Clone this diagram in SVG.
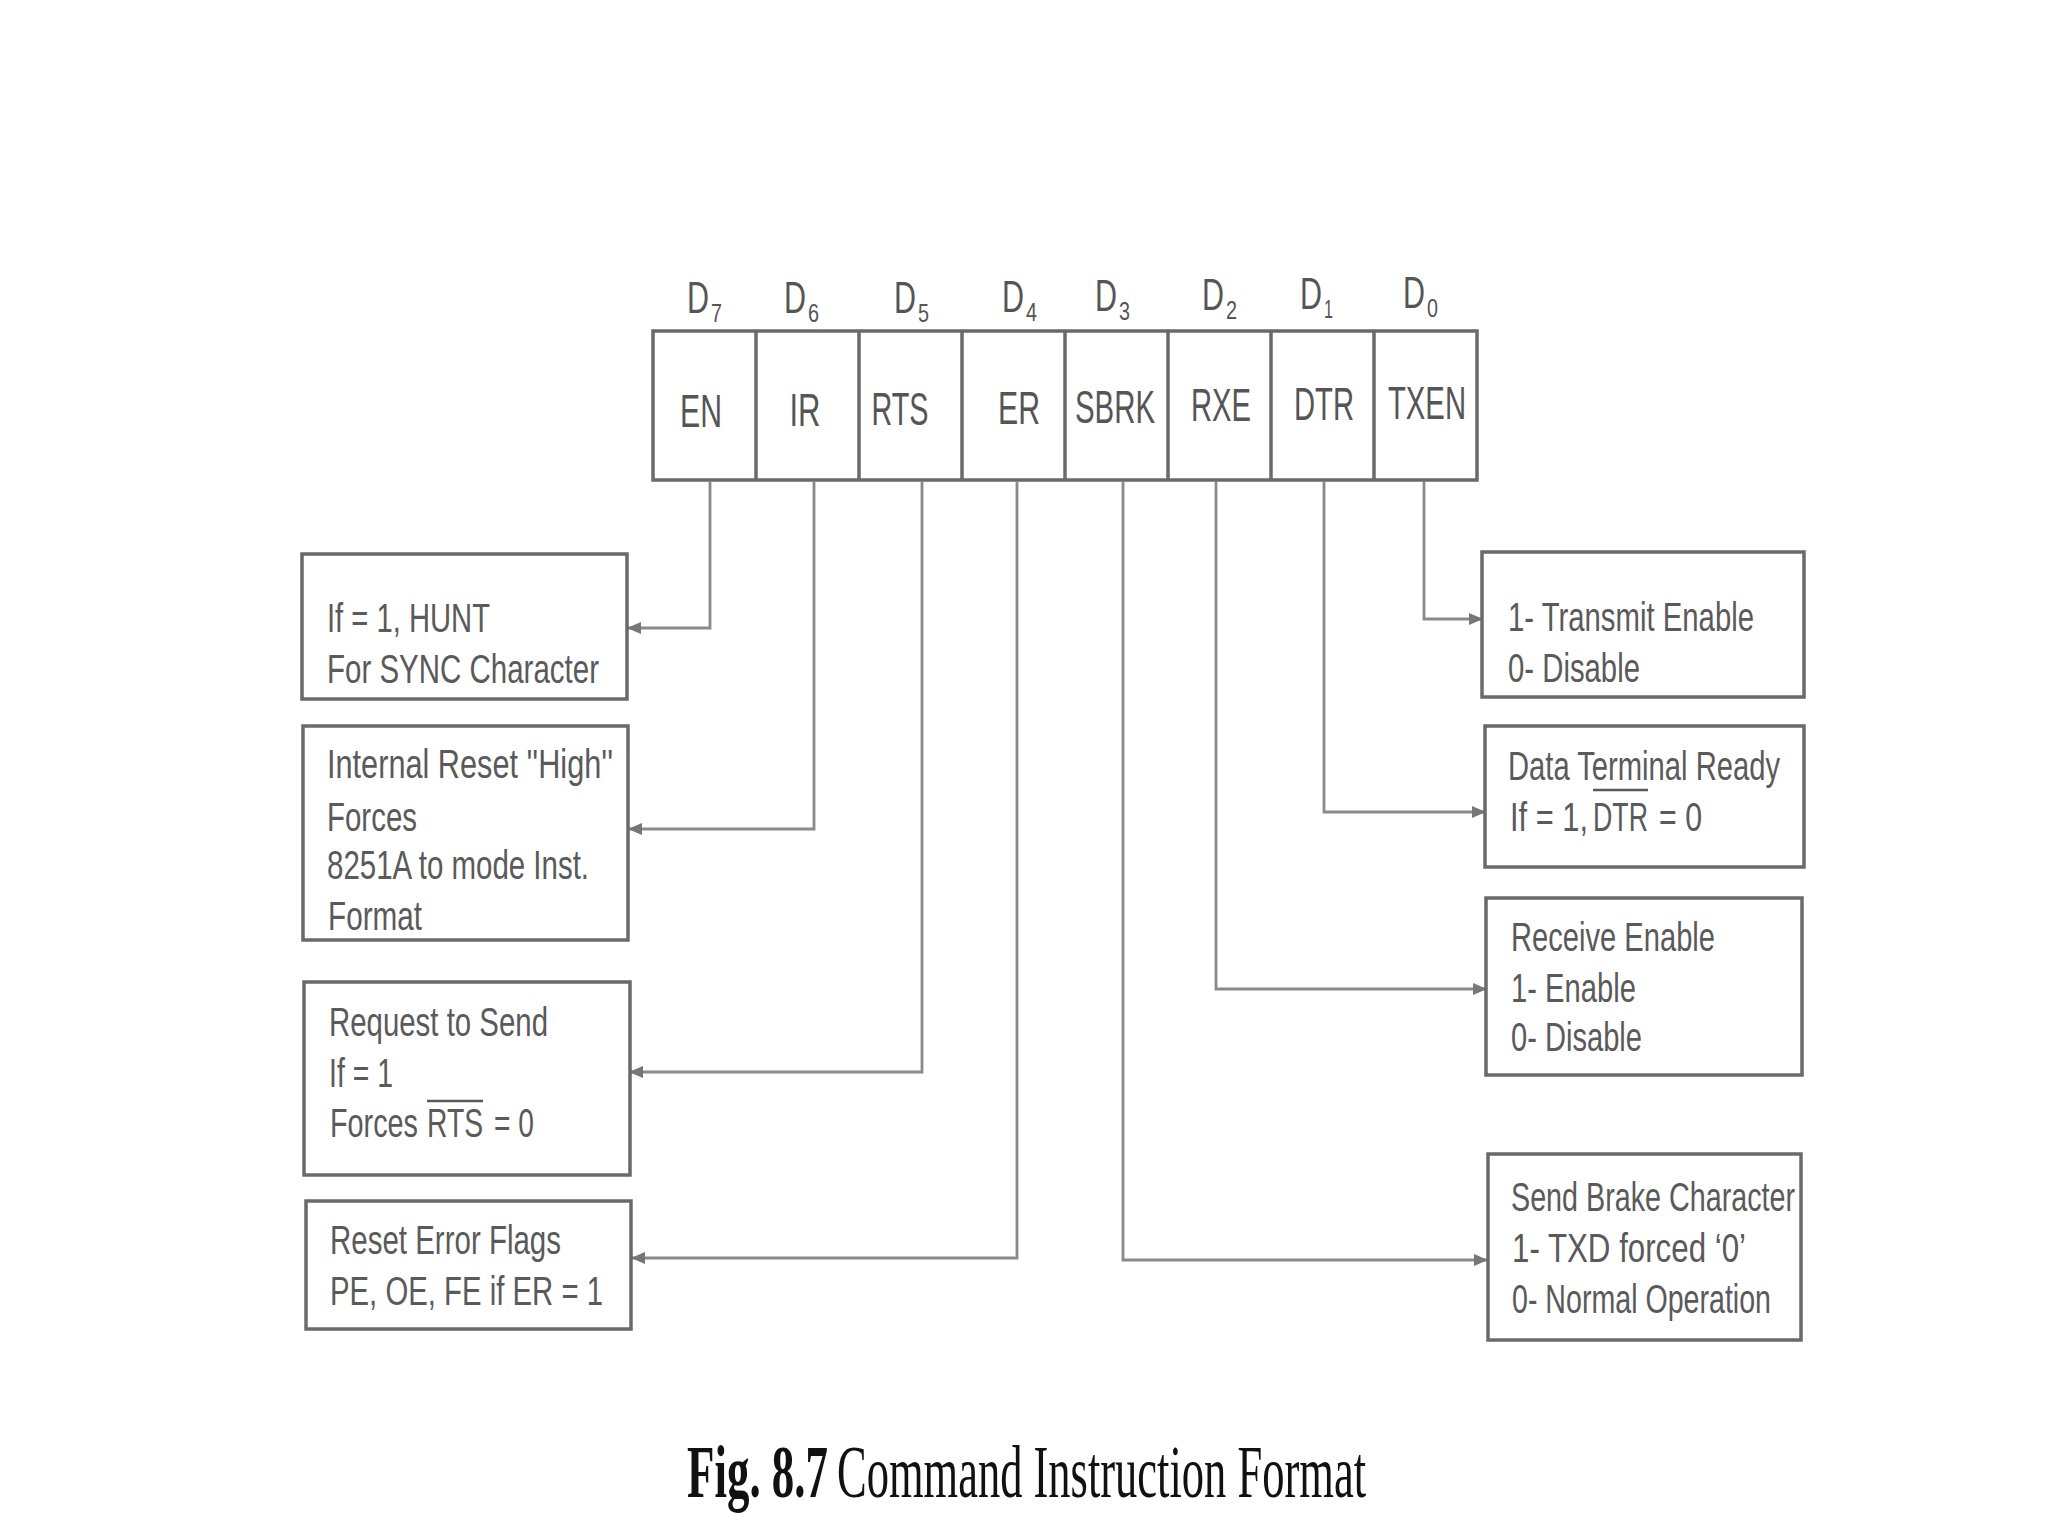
<svg xmlns="http://www.w3.org/2000/svg" width="2048" height="1536" viewBox="0 0 2048 1536">
<style>
.box{fill:none;stroke:#6a6a6a;stroke-width:3.5}
.cell{fill:#fff;stroke:#6a6a6a;stroke-width:3.5}
.conn{fill:none;stroke:#8a8a8a;stroke-width:2.8}
.ovl{stroke:#5a5a5a;stroke-width:2.5}
.t{font-family:"Liberation Sans",Arial,sans-serif;font-size:41px;fill:#5a5a5a}
.c{font-family:"Liberation Sans",Arial,sans-serif;font-size:46px;fill:#555;text-anchor:middle}
.d{font-family:"Liberation Sans",Arial,sans-serif;font-size:44px;fill:#555}
.s{font-family:"Liberation Sans",Arial,sans-serif;font-size:26px;fill:#555}
.cap{font-family:"Liberation Serif","Times New Roman",serif;font-size:75px;fill:#111}
</style>
<defs>
<marker id="arr" markerUnits="userSpaceOnUse" markerWidth="14" markerHeight="12" refX="13" refY="6" orient="auto">
<path d="M0,0 L14,6 L0,12 z" fill="#777"/>
</marker>
</defs>
<rect width="2048" height="1536" fill="#fff"/>

<g id="register">
<rect class="cell" x="653" y="331" width="824" height="149"/>
<line class="cell" x1="756" y1="331" x2="756" y2="480"/>
<line class="cell" x1="859" y1="331" x2="859" y2="480"/>
<line class="cell" x1="962" y1="331" x2="962" y2="480"/>
<line class="cell" x1="1065" y1="331" x2="1065" y2="480"/>
<line class="cell" x1="1168" y1="331" x2="1168" y2="480"/>
<line class="cell" x1="1271" y1="331" x2="1271" y2="480"/>
<line class="cell" x1="1374" y1="331" x2="1374" y2="480"/>
<text class="c" x="701" y="427" textLength="42" lengthAdjust="spacingAndGlyphs">EN</text>
<text class="c" x="805" y="426" textLength="31" lengthAdjust="spacingAndGlyphs">IR</text>
<text class="c" x="900" y="425" textLength="57" lengthAdjust="spacingAndGlyphs">RTS</text>
<text class="c" x="1019" y="424" textLength="42" lengthAdjust="spacingAndGlyphs">ER</text>
<text class="c" x="1115" y="423" textLength="80" lengthAdjust="spacingAndGlyphs">SBRK</text>
<text class="c" x="1221" y="421" textLength="60" lengthAdjust="spacingAndGlyphs">RXE</text>
<text class="c" x="1324" y="420" textLength="60" lengthAdjust="spacingAndGlyphs">DTR</text>
<text class="c" x="1427" y="419" textLength="78" lengthAdjust="spacingAndGlyphs">TXEN</text>
</g>

<g id="bit-labels">
<text class="d" x="687" y="313" textLength="22" lengthAdjust="spacingAndGlyphs">D</text>
<text class="s" x="711" y="322" textLength="11" lengthAdjust="spacingAndGlyphs">7</text>
<text class="d" x="784" y="313" textLength="22" lengthAdjust="spacingAndGlyphs">D</text>
<text class="s" x="808" y="322" textLength="11" lengthAdjust="spacingAndGlyphs">6</text>
<text class="d" x="894" y="313" textLength="22" lengthAdjust="spacingAndGlyphs">D</text>
<text class="s" x="918" y="322" textLength="11" lengthAdjust="spacingAndGlyphs">5</text>
<text class="d" x="1002" y="312" textLength="22" lengthAdjust="spacingAndGlyphs">D</text>
<text class="s" x="1026" y="321" textLength="11" lengthAdjust="spacingAndGlyphs">4</text>
<text class="d" x="1095" y="311" textLength="22" lengthAdjust="spacingAndGlyphs">D</text>
<text class="s" x="1119" y="320" textLength="11" lengthAdjust="spacingAndGlyphs">3</text>
<text class="d" x="1202" y="310" textLength="22" lengthAdjust="spacingAndGlyphs">D</text>
<text class="s" x="1226" y="319" textLength="11" lengthAdjust="spacingAndGlyphs">2</text>
<text class="d" x="1300" y="309" textLength="22" lengthAdjust="spacingAndGlyphs">D</text>
<text class="s" x="1324" y="318" textLength="9" lengthAdjust="spacingAndGlyphs">1</text>
<text class="d" x="1403" y="308" textLength="22" lengthAdjust="spacingAndGlyphs">D</text>
<text class="s" x="1427" y="317" textLength="11" lengthAdjust="spacingAndGlyphs">0</text>
</g>

<g id="connectors">
<polyline class="conn" points="710,481 710,628 628,628" marker-end="url(#arr)"/>
<polyline class="conn" points="814,481 814,829 629,829" marker-end="url(#arr)"/>
<polyline class="conn" points="922,481 922,1072 630,1072" marker-end="url(#arr)"/>
<polyline class="conn" points="1017,481 1017,1258 632,1258" marker-end="url(#arr)"/>
<polyline class="conn" points="1123,481 1123,1260 1487,1260" marker-end="url(#arr)"/>
<polyline class="conn" points="1216,481 1216,989 1486,989" marker-end="url(#arr)"/>
<polyline class="conn" points="1324,481 1324,812 1485,812" marker-end="url(#arr)"/>
<polyline class="conn" points="1424,481 1424,619 1482,619" marker-end="url(#arr)"/>
</g>

<g id="hunt">
<rect class="box" x="302" y="554" width="325" height="145"/>
<text class="t" x="327" y="632" textLength="163" lengthAdjust="spacingAndGlyphs">If = 1, HUNT</text>
<text class="t" x="327" y="683" textLength="272" lengthAdjust="spacingAndGlyphs">For SYNC Character</text>
</g>

<g id="internal-reset">
<rect class="box" x="303" y="726" width="325" height="214"/>
<text class="t" x="327" y="778" textLength="286" lengthAdjust="spacingAndGlyphs">Internal Reset ''High''</text>
<text class="t" x="327" y="831" textLength="90" lengthAdjust="spacingAndGlyphs">Forces</text>
<text class="t" x="327" y="879" textLength="262" lengthAdjust="spacingAndGlyphs">8251A to mode Inst.</text>
<text class="t" x="328" y="930" textLength="94" lengthAdjust="spacingAndGlyphs">Format</text>
</g>

<g id="request-to-send">
<rect class="box" x="304" y="982" width="326" height="193"/>
<text class="t" x="329" y="1036" textLength="219" lengthAdjust="spacingAndGlyphs">Request to Send</text>
<text class="t" x="329" y="1087" textLength="64" lengthAdjust="spacingAndGlyphs">If = 1</text>
<text class="t" x="330" y="1137" textLength="88" lengthAdjust="spacingAndGlyphs">Forces</text>
<text class="t" x="427" y="1137" textLength="56" lengthAdjust="spacingAndGlyphs">RTS</text>
<text class="t" x="494" y="1137" textLength="40" lengthAdjust="spacingAndGlyphs">= 0</text>
<line class="ovl" x1="427" y1="1101" x2="483" y2="1101"/>
</g>

<g id="reset-error">
<rect class="box" x="306" y="1201" width="325" height="128"/>
<text class="t" x="330" y="1254" textLength="231" lengthAdjust="spacingAndGlyphs">Reset Error Flags</text>
<text class="t" x="330" y="1305" textLength="273" lengthAdjust="spacingAndGlyphs">PE, OE, FE if ER = 1</text>
</g>

<g id="transmit-enable">
<rect class="box" x="1482" y="552" width="322" height="145"/>
<text class="t" x="1508" y="631" textLength="246" lengthAdjust="spacingAndGlyphs">1- Transmit Enable</text>
<text class="t" x="1508" y="682" textLength="132" lengthAdjust="spacingAndGlyphs">0- Disable</text>
</g>

<g id="data-terminal-ready">
<rect class="box" x="1485" y="726" width="319" height="141"/>
<text class="t" x="1508" y="780" textLength="272" lengthAdjust="spacingAndGlyphs">Data Terminal Ready</text>
<text class="t" x="1510" y="831" textLength="78" lengthAdjust="spacingAndGlyphs">If = 1,</text>
<text class="t" x="1593" y="831" textLength="55" lengthAdjust="spacingAndGlyphs">DTR</text>
<text class="t" x="1659" y="831" textLength="43" lengthAdjust="spacingAndGlyphs">= 0</text>
<line class="ovl" x1="1593" y1="790" x2="1648" y2="790"/>
</g>

<g id="receive-enable">
<rect class="box" x="1486" y="898" width="316" height="177"/>
<text class="t" x="1511" y="951" textLength="204" lengthAdjust="spacingAndGlyphs">Receive Enable</text>
<text class="t" x="1511" y="1002" textLength="125" lengthAdjust="spacingAndGlyphs">1- Enable</text>
<text class="t" x="1511" y="1051" textLength="131" lengthAdjust="spacingAndGlyphs">0- Disable</text>
</g>

<g id="send-break">
<rect class="box" x="1488" y="1154" width="313" height="186"/>
<text class="t" x="1511" y="1211" textLength="284" lengthAdjust="spacingAndGlyphs">Send Brake Character</text>
<text class="t" x="1512" y="1262" textLength="234" lengthAdjust="spacingAndGlyphs">1- TXD forced ‘0’</text>
<text class="t" x="1512" y="1313" textLength="259" lengthAdjust="spacingAndGlyphs">0- Normal Operation</text>
</g>

<g id="caption">
<text class="cap" x="687" y="1497" font-weight="bold" textLength="141" lengthAdjust="spacingAndGlyphs">Fig. 8.7</text>
<text class="cap" x="837" y="1497" textLength="529" lengthAdjust="spacingAndGlyphs">Command Instruction Format</text>
</g>
</svg>
